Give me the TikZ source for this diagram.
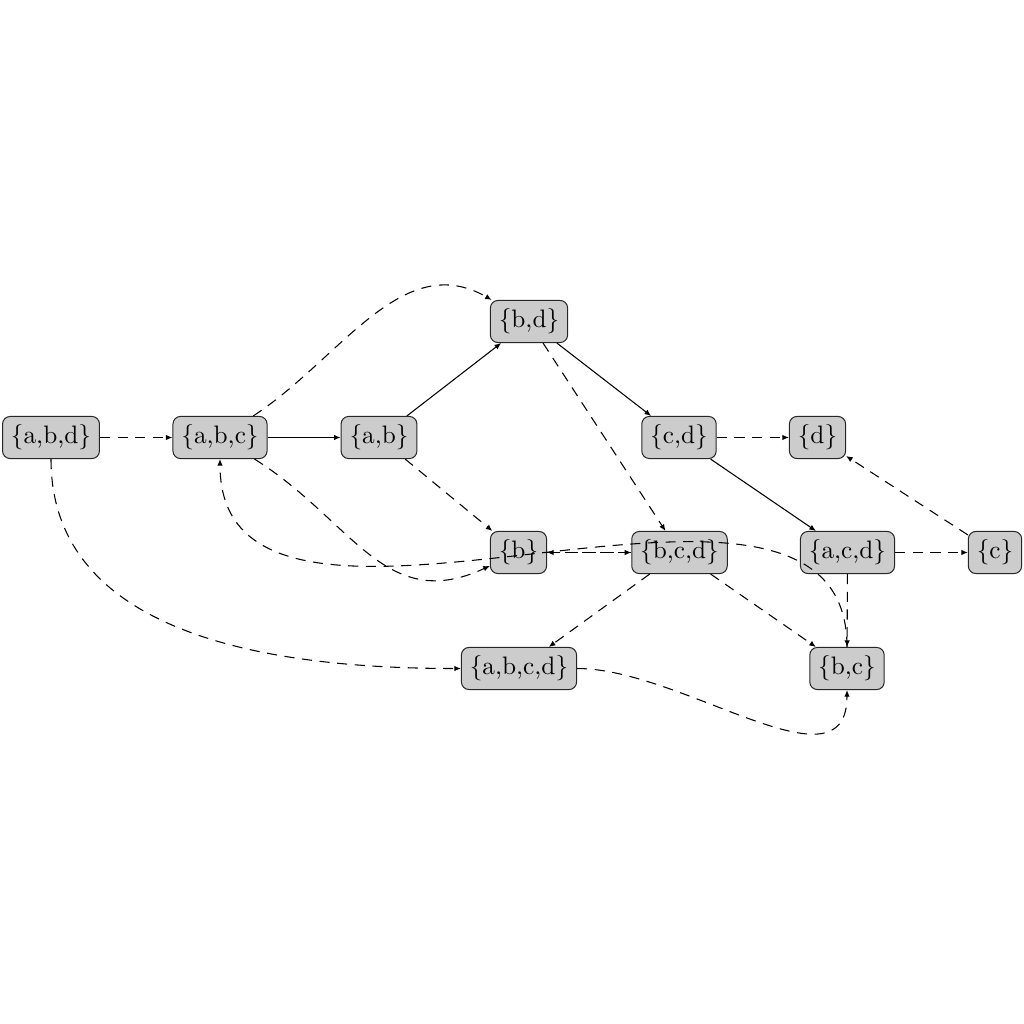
\documentclass[tikz,border=0pt]{standalone}
\usetikzlibrary{arrows.meta}
\begin{document}
\begin{tikzpicture}[x=0.3956pt,y=-0.3956pt,
  set/.style={draw=black!85,fill=black!20,rounded corners=3pt,inner sep=3.33pt,line width=0.4pt},
  sl/.style={-{Latex[length=2.6pt,width=2.2pt]},line width=0.42pt},
  dl/.style={sl,dash pattern=on 4pt off 3pt}]
\useasboundingbox (0,0) rectangle (1024,1024);

% subsets of {a,b,c,d}
\node[set] (abd)  at (51,437.5)  {\{a,b,d\}};
\node[set] (abc)  at (220,437.5) {\{a,b,c\}};
\node[set] (ab)   at (379,437.5) {\{a,b\}};
\node[set] (bd)   at (529,321.5) {\{b,d\}};
\node[set] (cd)   at (679,437.5) {\{c,d\}};
\node[set] (d)    at (817.5,437.5) {\{d\}};
\node[set] (b)    at (518.5,552.5) {\{b\}};
\node[set] (bcd)  at (679.5,552.5) {\{b,c,d\}};
\node[set] (acd)  at (847.5,552.5) {\{a,c,d\}};
\node[set] (c)    at (995,552.5) {\{c\}};
\node[set] (abcd) at (519,668.5) {\{a,b,c,d\}};
\node[set] (bc)   at (847,668.5) {\{b,c\}};

% solid links
\draw[sl] (abc) -- (ab);
\draw[sl] (ab) -- (bd);
\draw[sl] (bd) -- (cd);
\draw[sl] (cd) -- (acd);

% dashed links
\draw[dl] (abd) -- (abc);
\draw[dl] (cd) -- (d);
\draw[dl] (c) -- (d);
\draw[dl] (acd) -- (c);
\draw[dl] (ab) -- (b);
\draw[dl] (bd) -- (bcd);
\draw[dl] (b) -- (bcd);
\draw[dl] (bcd) -- (b);
\draw[dl] (bcd) -- (abcd);
\draw[dl] (bcd) -- (bc);
\draw[dl] (acd) -- (bc);
\draw[dl] (abc) to[out=33,in=150] (bd);
\draw[dl] (abd) to[out=-90,in=180] (abcd);
\draw[dl] (abc) to[out=-32,in=205,looseness=1.15] (b);
\draw[dl] (bc) to[out=90,in=-90] (abc);
\draw[dl] (abcd) to[out=0,in=-90] (bc);
\end{tikzpicture}
\end{document}
